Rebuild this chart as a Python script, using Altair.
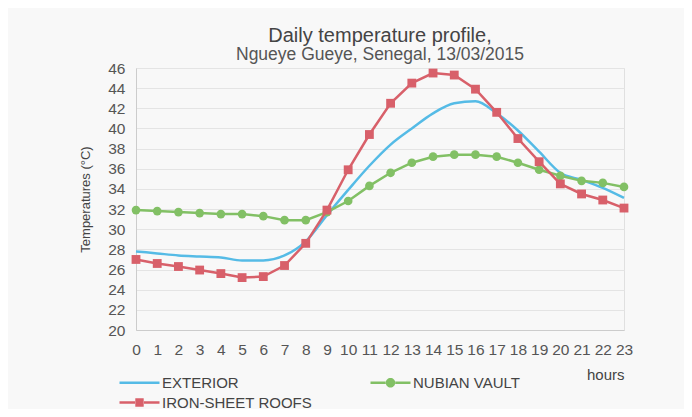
import altair as alt
import pandas as pd

hours = list(range(24))
series_names = ["EXTERIOR", "NUBIAN VAULT", "IRON-SHEET ROOFS"]
exterior = [27.8, 27.6, 27.4, 27.3, 27.2, 26.9, 26.9, 27.4, 28.8, 31.4, 33.9, 36.3,
            38.4, 40.0, 41.5, 42.5, 42.7, 41.5, 39.8, 37.7, 35.6, 34.9, 34.1, 33.1]
iron_sheet = [27.0, 26.6, 26.3, 25.95, 25.6, 25.2, 25.3, 26.4, 28.6, 31.9, 35.9, 39.4,
              42.5, 44.5, 45.5, 45.3, 43.9, 41.6, 39.0, 36.7, 34.5, 33.5, 32.9, 32.1]
nubian = [31.9, 31.8, 31.7, 31.6, 31.5, 31.5, 31.3, 30.9, 30.9, 31.7, 32.8, 34.3,
          35.6, 36.6, 37.2, 37.4, 37.4, 37.2, 36.6, 35.9, 35.3, 34.8, 34.6, 34.2]

colors = {"EXTERIOR": "#55bbe6", "NUBIAN VAULT": "#82c065", "IRON-SHEET ROOFS": "#d8606a"}

rows = []
for name, vals in [("EXTERIOR", exterior), ("NUBIAN VAULT", nubian), ("IRON-SHEET ROOFS", iron_sheet)]:
    for h, v in zip(hours, vals):
        rows.append({"hour": h, "temp": v, "series": name})
df = pd.DataFrame(rows)

FONT = "Liberation Sans"
xscale = alt.Scale(domain=[0, 23], nice=False, zero=False)
yscale = alt.Scale(domain=[20, 46], nice=False, zero=False)

xenc = alt.X("hour:Q", scale=xscale,
             axis=alt.Axis(title="hours", values=hours, format="d", grid=False, ticks=False,
                           labelPadding=12, titleAnchor="end", titleAlign="right",
                           titlePadding=10, domainColor="#cccccc", labelFlush=False,
                           labelOverlap=False))
yenc = alt.Y("temp:Q", scale=yscale,
             axis=alt.Axis(title="Temperatures (°C)", values=list(range(20, 47, 2)), ticks=False,
                           labelPadding=11, titleFontSize=13, titlePadding=15,
                           domainColor="#cccccc", gridColor="#e4e4e4", labelOverlap=False))

layers = []
# exterior smooth line
layers.append(alt.Chart(df).transform_filter(alt.datum.series == "EXTERIOR").mark_line(
    color=colors["EXTERIOR"], strokeWidth=2.5, interpolate="monotone").encode(x=xenc, y=yenc))
for name, shape, sz in [("NUBIAN VAULT", "circle", 75), ("IRON-SHEET ROOFS", "square", 78)]:
    base = alt.Chart(df).transform_filter(alt.datum.series == name)
    layers.append(base.mark_line(color=colors[name], strokeWidth=2.5).encode(x=xenc, y=yenc))
    layers.append(base.mark_point(color=colors[name], filled=True, opacity=1, shape=shape,
                                  size=sz).encode(x=xenc, y=yenc))

# legend-only layer (no data rows drawn)
line_l = "M-4,-0.26H-0.9V0.26H-4Z"
line_r = "M0.9,-0.26H4V0.26H0.9Z"
path_ext = "M-4,-0.26H4V0.26H-4Z"
path_sq = line_l + line_r + "M-0.84,-0.84H0.84V0.84H-0.84Z"
path_ci = line_l + line_r + "M-0.95,0A0.95,0.95 0 1,0 0.95,0A0.95,0.95 0 1,0 -0.95,0Z"
leg = alt.Legend(title=None, orient="none", legendX=-4, legendY=307, direction="horizontal",
                 columns=2, columnPadding=57, rowPadding=4,
                 labelOffset=15, labelFontSize=15, labelColor="#444444",
                 labelFont=FONT, padding=0, symbolStrokeWidth=0)
legend_layer = alt.Chart(df).transform_filter("false").mark_point(
    filled=True, opacity=1, size=90, strokeWidth=0).encode(
    x=xenc, y=yenc,
    color=alt.Color("series:N", sort=series_names,
                    scale=alt.Scale(domain=series_names,
                                    range=[colors[s] for s in series_names]),
                    legend=leg),
    shape=alt.Shape("series:N", sort=series_names,
                    scale=alt.Scale(domain=series_names,
                                    range=[path_ext, path_ci, path_sq]),
                    legend=leg),
)
layers.append(legend_layer)

chart = alt.layer(*layers).properties(
    width=488, height=262,
    title=alt.Title("Daily temperature profile,", subtitle="Ngueye Gueye, Senegal, 13/03/2015",
                    anchor="middle", fontSize=20, subtitleFontSize=17.5, font=FONT, subtitleFont=FONT,
                    color="#444444", subtitleColor="#555555", fontWeight="normal",
                    subtitlePadding=0, offset=-2),
    autosize=alt.AutoSizeParams(type="none"),
    padding={"left": 128, "top": 60, "right": 60, "bottom": 79},
    background="#f8f8f8",
).configure_axis(
    labelFont=FONT, titleFont=FONT, labelFontSize=15.5, titleFontSize=15,
    labelColor="#555555", titleColor="#444444", titleFontWeight="normal",
).configure_view(stroke="#e0e0e0")

chart.save("out.html", embed_options={"renderer": "svg", "actions": False})
